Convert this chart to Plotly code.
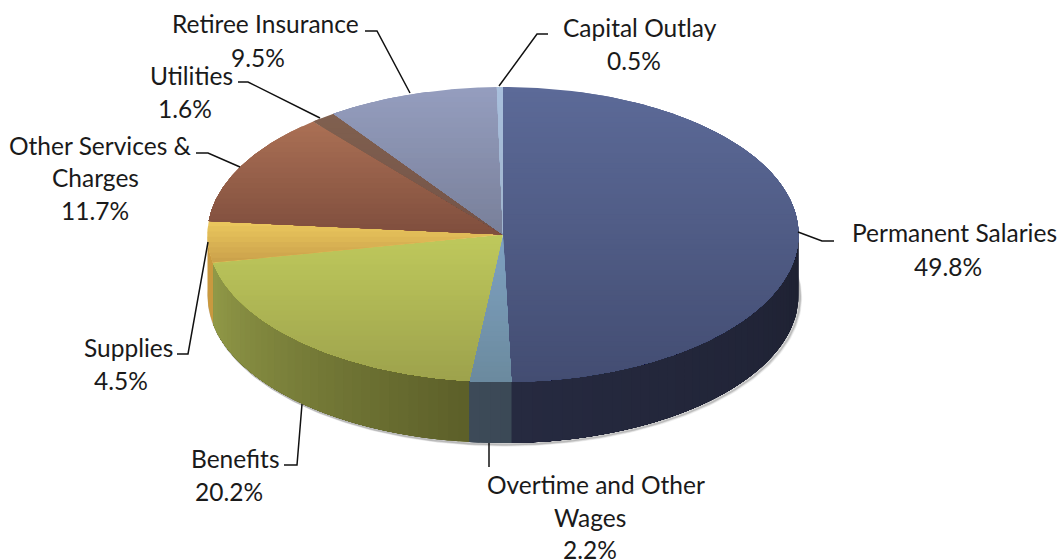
import numpy as np
import plotly.graph_objects as go

# Slices, clockwise from 12 o'clock
names = ['Permanent Salaries', 'Overtime and Other Wages', 'Benefits', 'Supplies',
         'Other Services & Charges', 'Utilities', 'Retiree Insurance', 'Capital Outlay']
values = [49.8, 2.2, 20.2, 4.5, 11.7, 1.6, 9.5, 0.5]

# Label text broken the way the chart breaks it
label_lines = [['Permanent Salaries'], ['Overtime and Other', 'Wages'], ['Benefits'], ['Supplies'],
               ['Other Services &', 'Charges'], ['Utilities'], ['Retiree Insurance'], ['Capital Outlay']]

# ── Styling and layout (pixels) ───────────────
W, H = 1061, 559
CX, CY, RX, RY, DEPTH = 503, 234.5, 295.5, 147.5, 61
FONT = 'Lato'
FONT_SIZE = 24.5

top_colors = [('#5c6a98', '#434d72'), ('#7fa2c2', '#6b8a9e'), ('#bfc95c', '#9da24c'), ('#ecc95e', '#c99f4a'),
              ('#ab7055', '#7f4e3d'), ('#80604f', '#745348'), ('#959ebf', '#787f99'), ('#a9c0dd', '#9fb4cc')]
side_colors = [('#1e2132', '#262a40'), ('#3b4956', '#3d4a58'), ('#5c5f29', '#929a48'), ('#c9993f', '#c9993f'),
               ('#8a5a45', '#8a5a45'), ('#6a4f44', '#6a4f44'), ('#70788f', '#70788f'), ('#8fa4bc', '#8fa4bc')]

# the original 3D projection bends slice edges slightly (degrees, one per edge)
edge_nudge = [0, -0.9, -0.6, -1.0, -0.9, 1.8, 1.0, 0.6, 0]

# center of each text line
label_x = [[954, 948], [596, 590, 590], [235, 229], [128, 121], [100, 95, 95], [191, 185], [265, 258], [640, 634]]
label_y = [[232, 266], [484, 517, 549], [458, 491], [347, 380], [145, 177, 210], [75, 108], [23, 57], [27, 60]]

leaders = [
    [(798, 232), (822, 241), (834, 241)],
    [(489, 443), (489, 467)],
    [(302, 404), (297, 465), (284, 465)],
    [(208, 242), (188, 354), (177, 354)],
    [(240, 167), (208, 153), (196, 153)],
    [(320, 118), (248, 82), (238, 82)],
    [(410, 93), (377, 31), (365, 31)],
    [(499, 86), (537, 34), (548, 34)],
]


def hex_mix(c0, c1, t):
    a = np.array([int(c0[i:i + 2], 16) for i in (1, 3, 5)])
    b = np.array([int(c1[i:i + 2], 16) for i in (1, 3, 5)])
    r, g, bl = (a + (b - a) * t).round().astype(int)
    return f'rgb({r},{g},{bl})'


def rim(deg, dy=0.0):
    th = np.radians(deg)
    return CX + RX * np.sin(th), CY - RY * np.cos(th) + dy


# keep the part of a convex polygon inside one horizontal band
def clip_band(pts, y0, y1):
    for limit, keep_below in ((y0, True), (y1, False)):
        out = []
        for i in range(len(pts)):
            p, q = pts[i - 1], pts[i]
            p_in = p[1] >= limit if keep_below else p[1] <= limit
            q_in = q[1] >= limit if keep_below else q[1] <= limit
            if p_in != q_in:
                t = (limit - p[1]) / (q[1] - p[1])
                out.append((p[0] + t * (q[0] - p[0]), limit))
            if q_in:
                out.append(q)
        pts = out
        if not pts:
            break
    return pts


def patch(xs, ys, color, width=0.0):
    return go.Scatter(x=xs, y=ys, mode='lines', fill='toself', fillcolor=color,
                      line=dict(color=color, width=width), hoverinfo='skip', showlegend=False)


# Slice boundaries in degrees, taken from the values
edges = np.concatenate([[0], np.cumsum(values)]) / sum(values) * 360 + np.array(edge_nudge)

fig = go.Figure()

# ── Soft shadow under the wall ────────────────
arc = np.linspace(75, 285, 200)
sx, sy = rim(arc, DEPTH)
for off, alpha in ((4, 0.08), (3, 0.12), (2, 0.2)):
    fig.add_trace(go.Scatter(x=sx + off * 0.6, y=sy + off * 0.6, mode='lines',
                             line=dict(color=f'rgba(60,60,60,{alpha})', width=2.5),
                             hoverinfo='skip', showlegend=False))

# ── Wall: visible half of the rim, shaded by angle ──
for i in range(len(values)):
    a0, a1 = max(edges[i], 90), min(edges[i + 1], 270)
    if a1 <= a0:
        continue
    # solid base first so the shaded strips leave no white seams
    arc = np.linspace(a0, a1, 80)
    x, y = rim(arc)
    xb, yb = rim(arc, DEPTH)
    fig.add_trace(patch(np.r_[x, xb[::-1], x[0]], np.r_[y, yb[::-1], y[0]], hex_mix(*side_colors[i], 0.5)))
    if side_colors[i][0] == side_colors[i][1]:
        continue
    n = max(1, int((a1 - a0) / 2))
    steps = np.linspace(a0, a1, n + 1)
    for j in range(n):
        # each strip runs on to the end of the slice, painted over by the next one
        arc = np.linspace(steps[j], a1, 40)
        x, y = rim(arc)
        xb, yb = rim(arc, DEPTH)
        fig.add_trace(patch(np.r_[x, xb[::-1], x[0]], np.r_[y, yb[::-1], y[0]],
                            hex_mix(*side_colors[i], (j + 0.5) / n)))

# ── Top face: each slice has its own vertical gradient ──
for i in range(len(values)):
    arc = np.linspace(edges[i], edges[i + 1], 160)
    x, y = rim(arc)
    pts = [(CX, CY)] + list(zip(x, y))
    ymin, ymax = min(p[1] for p in pts), max(p[1] for p in pts)
    n = max(1, int((ymax - ymin) / 5))
    bands = np.linspace(ymin, ymax, n + 1)
    for j in range(n):
        # band runs on to the slice bottom, painted over by the next one
        part = clip_band(pts, bands[j], ymax + 1)
        if len(part) < 3:
            continue
        px, py = zip(*(part + part[:1]))
        fig.add_trace(patch(px, py, hex_mix(*top_colors[i], (j + 0.5) / n)))

# ── Leader lines ──────────────────────────────
for line in leaders:
    lx, ly = zip(*line)
    fig.add_trace(go.Scatter(x=lx, y=ly, mode='lines', line=dict(color='#111111', width=1.5),
                             hoverinfo='skip', showlegend=False))

# ── Labels, one annotation per line for the tall line spacing ──
for i, v in enumerate(values):
    lines = label_lines[i] + [f'{v}%']
    for k, text in enumerate(lines):
        fig.add_annotation(x=label_x[i][k], y=label_y[i][k], text=text,
                           showarrow=False, xanchor='center', yanchor='middle',
                           font=dict(family=FONT, size=FONT_SIZE, color='#1a1a1a'))

fig.update_layout(
    width=W, height=H,
    margin=dict(l=0, r=0, t=0, b=0),
    paper_bgcolor='white', plot_bgcolor='white',
    showlegend=False,
    xaxis=dict(range=[0, W], visible=False, fixedrange=True),
    yaxis=dict(range=[H, 0], visible=False, fixedrange=True),
)

fig.write_html("out.html", config=dict(displayModeBar=False),
               post_script="document.body.style.margin='0';")
